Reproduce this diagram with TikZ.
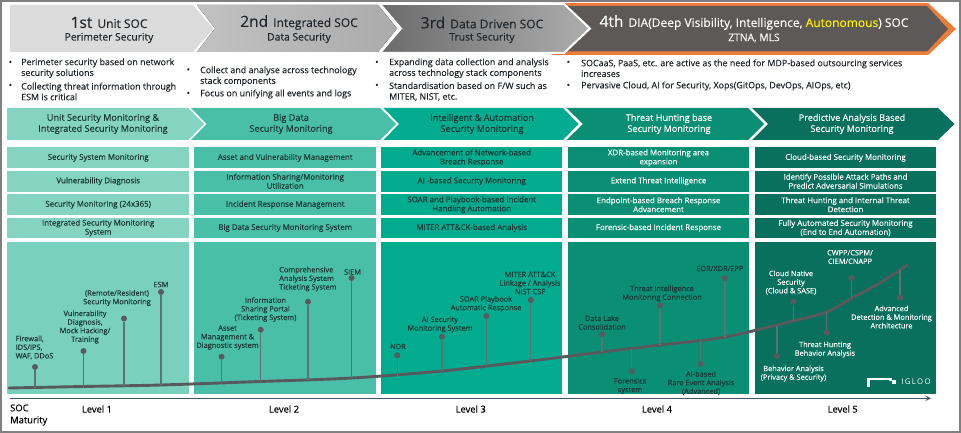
\documentclass[tikz,border=0pt]{standalone}
\usepackage{fontspec}
\setmainfont{Open Sans}[FakeBold=0.25]
\newfontfamily\logofont[LetterSpace=18]{Open Sans}
\newlength{\du}
\setlength{\du}{1pt}
\tikzset{
  headtext/.style={inner sep=0pt,align=center,text=textdark,font=\fontsize{12pt}{13pt}\selectfont},
  subtext/.style={inner sep=0pt,align=center,text=textdark,font=\fontsize{10.3pt}{11pt}\selectfont},
  itemtext/.style={anchor=west,inner sep=0pt,align=left,text=textdark,font=\fontsize{8.9pt}{10.7pt}\selectfont},
  bandtext/.style={inner sep=0pt,align=center,font=\fontsize{9.1pt}{11pt}\selectfont},
  cellbox/.style={minimum width=181.5\du,minimum height=20.8\du,inner sep=0pt,align=center,font=\fontsize{7.9pt}{9pt}\selectfont},
  panelbox/.style={minimum width=181.5\du,minimum height=152.3\du,inner sep=0pt},
  dotmark/.style={circle,fill=dotgrey,minimum size=6\du,inner sep=0pt},
  stemline/.style={draw=stemgrey,line width=1.1\du},
  marktext/.style={inner sep=0pt,align=center,font=\fontsize{7.4pt}{8.6pt}\selectfont},
  leveltext/.style={inner sep=0pt,text=black,font=\fontsize{9.4pt}{12pt}\selectfont}
}
\begin{document}
\begin{tikzpicture}
\pgftransformxscale{1.000000}
\pgftransformyscale{-1.000000}
\definecolor{textdark}{rgb}{0.130000, 0.150000, 0.170000}
\definecolor{textgreen}{rgb}{0.090000, 0.220000, 0.210000}
\definecolor{framegrey}{rgb}{0.500000, 0.500000, 0.500000}
\definecolor{dotgrey}{rgb}{0.350000, 0.350000, 0.380000}
\definecolor{stemgrey}{rgb}{0.360000, 0.450000, 0.450000}
\definecolor{curvegrey}{rgb}{0.340000, 0.350000, 0.360000}
\definecolor{axisblue}{rgb}{0.270000, 0.330000, 0.420000}
\definecolor{igorange}{rgb}{0.930000, 0.490000, 0.220000}
\definecolor{igdark}{rgb}{0.370000, 0.350000, 0.350000}
\definecolor{levela}{rgb}{0.520000, 0.830000, 0.760000}
\definecolor{levelb}{rgb}{0.290000, 0.750000, 0.660000}
\definecolor{levelc}{rgb}{0.010000, 0.670000, 0.560000}
\definecolor{leveld}{rgb}{0.040000, 0.560000, 0.460000}
\definecolor{levele}{rgb}{0.030000, 0.440000, 0.360000}
\useasboundingbox (0\du,0\du) rectangle (961\du,433\du);
\fill[white] (0\du,0\du) rectangle (961\du,433\du);
\draw[framegrey,line width=2\du] (1\du,1\du) rectangle (960\du,432\du);
% top row
\fill[igorange] (552\du,3\du)--(928\du,3\du)--(956\du,29\du)--(928\du,55\du)--(552\du,55\du)--cycle;
\fill[igdark] (565\du,6\du)--(927\du,6\du)--(948\du,29\du)--(927\du,51.5\du)--(565\du,51.5\du)--cycle;
\fill[left color=black!58,right color=black!32,draw=white,line width=2\du] (380\du,4\du)--(564\du,4\du)--(590\du,28.5\du)--(564\du,53\du)--(380\du,53\du)--(401\du,28.5\du)--cycle;
\fill[black!14] (10\du,5\du)--(193\du,5\du)--(213\du,28.5\du)--(193\du,52\du)--(10\du,52\du)--cycle;
\fill[left color=black!24,right color=black!33] (197\du,5\du)--(378\du,5\du)--(397\du,28.5\du)--(378\du,52\du)--(197\du,52\du)--(215\du,28.5\du)--cycle;
\node[headtext] (heada) at (109\du,22.5\du){{\fontsize{15.5pt}{15pt}\selectfont 1st}\, Unit SOC};
\node[subtext] (suba) at (109\du,38\du){Perimeter Security};
\node[headtext] (headb) at (299\du,22.5\du){{\fontsize{15.5pt}{15pt}\selectfont 2nd}\, Integrated SOC};
\node[subtext] (subb) at (299\du,38\du){Data Security};
\node[headtext] (headc) at (482\du,22.5\du){{\fontsize{15.5pt}{15pt}\selectfont 3rd}\, Data Driven SOC};
\node[subtext] (subc) at (482\du,38\du){Trust Security};
\node[headtext,text=white] (headd) at (754\du,22.5\du){{\fontsize{15.5pt}{15pt}\selectfont 4th}\, DIA(Deep Visibility, Intelligence, \textcolor{yellow}{Autonomous}) SOC};
\node[subtext,text=white] (subd) at (754\du,38\du){ZTNA, MLS};
% bullets
\node[itemtext] (bula) at (8.5\du,63\du){•};
\node[itemtext] (itema) at (21\du,68.2\du){Perimeter security based on network\\security solutions};
\node[itemtext] (bulb) at (8.5\du,86\du){•};
\node[itemtext] (itemb) at (21\du,91.5\du){Collecting threat information through\\ESM is critical};
\node[itemtext] (bulc) at (186.5\du,70.5\du){•};
\node[itemtext] (itemc) at (200\du,76.2\du){Collect and analyse across technology\\stack components};
\node[itemtext] (buld) at (186.5\du,94\du){•};
\node[itemtext] (itemd) at (200\du,94\du){Focus on unifying all events and logs};
\node[itemtext] (bule) at (375\du,63\du){•};
\node[itemtext] (iteme) at (389\du,68.2\du){Expanding data collection and analysis\\across technology stack components};
\node[itemtext] (bulf) at (375\du,86\du){•};
\node[itemtext] (itemf) at (389\du,91.5\du){Standardisation based on F/W such as\\MITER, NIST, etc.};
\node[itemtext] (bulg) at (566.5\du,63\du){•};
\node[itemtext] (itemg) at (581\du,68.2\du){SOCaaS, PaaS, etc. are active as the need for MDP-based outsourcing services\\increases};
\node[itemtext] (bulh) at (566.5\du,86\du){•};
\node[itemtext] (itemh) at (581\du,86\du){Pervasive Cloud, AI for Security, Xops(GitOps, DevOps, AIOps, etc)};
% second row
\fill[levela] (7\du,108\du)--(188\du,108\du)--(204\du,124\du)--(188\du,140\du)--(7\du,140\du)--cycle;
\fill[levelb] (191\du,108\du)--(380\du,108\du)--(396\du,124\du)--(380\du,140\du)--(191\du,140\du)--(206.5\du,124\du)--cycle;
\fill[levelc] (383.5\du,108\du)--(563\du,108\du)--(578.5\du,124\du)--(563\du,140\du)--(383.5\du,140\du)--(399\du,124\du)--cycle;
\fill[leveld] (566.5\du,108\du)--(748\du,108\du)--(764\du,124\du)--(748\du,140\du)--(566.5\du,140\du)--(583\du,124\du)--cycle;
\fill[levele] (752\du,108\du)--(938\du,108\du)--(954.5\du,124\du)--(938\du,140\du)--(752\du,140\du)--(768\du,124\du)--cycle;
\node[bandtext,text=textgreen] (banda) at (103\du,124\du){Unit Security Monitoring \&\\Integrated Security Monitoring};
\node[bandtext,text=textgreen] (bandb) at (291\du,124\du){Big Data\\Security Monitoring};
\node[bandtext,text=textgreen] (bandc) at (482\du,124\du){Intelligent \& Automation\\Security Monitoring};
\node[bandtext,text=white] (bandd) at (669\du,124\du){Threat Hunting base\\Security Monitoring};
\node[bandtext,text=white] (bande) at (852\du,124\du){Predictive Analysis Based\\Security Monitoring};
% cells
\node[cellbox,fill=levela,text=textgreen] (cellaa) at (98.2\du,157.8\du){Security System Monitoring};
\node[cellbox,fill=levela,text=textgreen] (cellab) at (98.2\du,181.2\du){Vulnerability Diagnosis};
\node[cellbox,fill=levela,text=textgreen] (cellac) at (98.2\du,204.7\du){Security Monitoring (24x365)};
\node[cellbox,fill=levela,text=textgreen] (cellad) at (98.2\du,228\du){Integrated Security Monitoring\\System};
\node[cellbox,fill=levelb,text=textgreen] (cellba) at (285.2\du,157.8\du){Asset and Vulnerability Management};
\node[cellbox,fill=levelb,text=textgreen] (cellbb) at (285.2\du,181.2\du){Information Sharing/Monitoring\\Utilization};
\node[cellbox,fill=levelb,text=textgreen] (cellbc) at (285.2\du,204.7\du){Incident Response Management};
\node[cellbox,fill=levelb,text=textgreen] (cellbd) at (285.2\du,228\du){Big Data Security Monitoring System};
\node[cellbox,fill=levelc,text=textgreen] (cellca) at (471.7\du,157.8\du){Advancement of Network-based\\Breach Response};
\node[cellbox,fill=levelc,text=textgreen] (cellcb) at (471.7\du,181.2\du){AI -based Security Monitoring};
\node[cellbox,fill=levelc,text=textgreen] (cellcc) at (471.7\du,204.7\du){SOAR and Playbook-based Incident\\Handling Automation};
\node[cellbox,fill=levelc,text=textgreen] (cellcd) at (471.7\du,228\du){MITER ATT\&CK-based Analysis};
\node[cellbox,fill=leveld,text=white] (cellda) at (658.5\du,157.8\du){XDR-based Monitoring area\\expansion};
\node[cellbox,fill=leveld,text=white] (celldb) at (658.5\du,181.2\du){Extend Threat Intelligence};
\node[cellbox,fill=leveld,text=white] (celldc) at (658.5\du,204.7\du){Endpoint-based Breach Response\\Advancement};
\node[cellbox,fill=leveld,text=white] (celldd) at (658.5\du,228\du){Forensic-based Incident Response};
\node[cellbox,fill=levele,text=white] (cellea) at (845.5\du,157.8\du){Cloud-based Security Monitoring};
\node[cellbox,fill=levele,text=white] (celleb) at (845.5\du,181.2\du){Identify Possible Attack Paths and\\Predict Adversarial Simulations};
\node[cellbox,fill=levele,text=white] (cellec) at (845.5\du,204.7\du){Threat Hunting and Internal Threat\\Detection};
\node[cellbox,fill=levele,text=white] (celled) at (845.5\du,228\du){Fully Automated Security Monitoring\\(End to End Automation)};
% panels
\node[panelbox,fill=levela!80!levelb] (panela) at (98.2\du,318\du){};
\node[panelbox,fill=levelb] (panelb) at (285.2\du,318\du){};
\node[panelbox,fill=levelc] (panelc) at (471.7\du,318\du){};
\node[panelbox,fill=leveld] (paneld) at (658.5\du,318\du){};
\node[panelbox,fill=levele] (panele) at (845.5\du,318\du){};
% maturity curve
\draw[curvegrey,line width=2.9\du,line cap=round] plot[smooth] coordinates {(9\du,388\du) (83\du,386.5\du) (161\du,385\du) (260\du,381.5\du) (352\du,378\du) (442\du,371\du) (530\du,361\du) (602\du,352\du) (660\du,345\du) (725\du,337\du) (793\du,321\du) (827\du,312\du) (852\du,298\du) (880\du,283\du) (907\du,265\du)};
% level 1
\coordinate (footfw) at (35\du,387.5\du);
\coordinate (footvd) at (83.5\du,386.5\du);
\coordinate (footsm) at (124\du,386\du);
\coordinate (footes) at (161\du,385\du);
\node[dotmark] (dotfw) at (35\du,367\du){};
\node[dotmark] (dotvd) at (83.5\du,351\du){};
\node[dotmark] (dotsm) at (124\du,318.5\du){};
\node[dotmark] (dotes) at (161\du,292\du){};
\draw[stemline] (dotfw)--(footfw);
\draw[stemline] (dotvd)--(footvd);
\draw[stemline] (dotsm)--(footsm);
\draw[stemline] (dotes)--(footes);
\node[marktext,text=textgreen,align=left,anchor=west] (txtfw) at (15.5\du,347.5\du){Firewall,\\IDS/IPS,\\WAF, DDoS};
\node[marktext,text=textgreen] (txtvd) at (85\du,327\du){Vulnerability\\Diagnosis,\\Mock Hacking/\\Training};
\node[marktext,text=textgreen] (txtsm) at (117\du,298\du){(Remote/Resident)\\Security Monitoring};
\node[marktext,text=textgreen] (txtes) at (161\du,284.5\du){ESM};
% level 2
\coordinate (footam) at (221.5\du,383\du);
\coordinate (footip) at (260.7\du,381.5\du);
\coordinate (footca) at (308\du,380\du);
\coordinate (footsi) at (351.5\du,378\du);
\node[dotmark] (dotam) at (221.5\du,356.7\du){};
\node[dotmark] (dotip) at (260.7\du,329.7\du){};
\node[dotmark] (dotca) at (308\du,301.7\du){};
\node[dotmark] (dotsi) at (351.5\du,278\du){};
\draw[stemline] (dotam)--(footam);
\draw[stemline] (dotip)--(footip);
\draw[stemline] (dotca)--(footca);
\draw[stemline] (dotsi)--(footsi);
\node[marktext,text=textgreen] (txtam) at (227.5\du,337.5\du){Asset\\Management \&\\Diagnostic system};
\node[marktext,text=textgreen] (txtip) at (265.5\du,309.5\du){Information\\Sharing Portal\\(Ticketing System)};
\node[marktext,text=textgreen,align=left,anchor=west] (txtca) at (279\du,279\du){Comprehensive\\Analysis System\\Ticketing System};
\node[marktext,text=textgreen] (txtsi) at (352.5\du,272\du){SIEM};
% level 3
\coordinate (footnd) at (397.3\du,376\du);
\coordinate (footai) at (442\du,371\du);
\coordinate (footsp) at (486.3\du,366.5\du);
\coordinate (footma) at (530.7\du,361\du);
\node[dotmark] (dotnd) at (397.3\du,355.3\du){};
\node[dotmark] (dotai) at (442\du,336.7\du){};
\node[dotmark] (dotsp) at (486.3\du,316\du){};
\node[dotmark] (dotma) at (530.7\du,300\du){};
\draw[stemline] (dotnd)--(footnd);
\draw[stemline] (dotai)--(footai);
\draw[stemline] (dotsp)--(footsp);
\draw[stemline] (dotma)--(footma);
\node[marktext,text=textgreen] (txtnd) at (398\du,346.5\du){NDR};
\node[marktext,text=textgreen] (txtai) at (440\du,324.5\du){AI Security\\Monitoring System};
\node[marktext,text=textgreen] (txtsp) at (486\du,304\du){SOAR Playbook\\Automatic Response};
\node[marktext,text=textgreen] (txtma) at (530\du,283\du){MITER ATT\&CK\\Linkage / Analysis\\NIST CSF};
% level 4
\coordinate (footdl) at (602\du,352\du);
\coordinate (footfo) at (631.7\du,349\du);
\coordinate (footti) at (660\du,345\du);
\coordinate (footed) at (725\du,337\du);
\coordinate (footar) at (700.3\du,340\du);
\node[dotmark] (dotdl) at (602\du,334.3\du){};
\node[dotmark] (dotfo) at (631.7\du,371.3\du){};
\node[dotmark] (dotti) at (660\du,305.3\du){};
\node[dotmark] (doted) at (725\du,278\du){};
\node[dotmark] (dotar) at (700.3\du,363.7\du){};
\draw[stemline] (dotdl)--(footdl);
\draw[stemline] (dotfo)--(footfo);
\draw[stemline] (dotti)--(footti);
\draw[stemline] (doted)--(footed);
\draw[stemline] (dotar)--(footar);
\node[marktext,text=textgreen] (txtdl) at (602\du,322.5\du){Data Lake\\Consolidation};
\node[marktext,text=textgreen] (txtfo) at (630\du,386\du){Forensics\\system};
\node[marktext,text=textgreen] (txtti) at (662\du,293.5\du){Threat Intelligence\\Monitoring Connection};
\node[marktext,text=textgreen] (txted) at (720\du,268.5\du){EDR/XDR/EPP};
\node[marktext,text=textgreen] (txtar) at (701\du,383\du){AI-based\\Rare Event Analysis\\(Advanced)};
% level 5
\coordinate (footba) at (777\du,326\du);
\coordinate (footcn) at (793.3\du,321\du);
\coordinate (footth) at (826.7\du,312\du);
\coordinate (footcw) at (851.7\du,298\du);
\coordinate (footad) at (900\du,270\du);
\node[dotmark] (dotba) at (777\du,356\du){};
\node[dotmark] (dotcn) at (793.3\du,301.7\du){};
\node[dotmark] (dotth) at (826.7\du,332.7\du){};
\node[dotmark] (dotcw) at (851.7\du,278\du){};
\node[dotmark] (dotad) at (900\du,297.7\du){};
\draw[stemline] (dotba)--(footba);
\draw[stemline] (dotcn)--(footcn);
\draw[stemline] (dotth)--(footth);
\draw[stemline] (dotcw)--(footcw);
\draw[stemline] (dotad)--(footad);
\node[marktext,text=white] (txtba) at (793.5\du,373.5\du){Behavior Analysis\\(Privacy \& Security)};
\node[marktext,text=white] (txtcn) at (791\du,282.5\du){Cloud Native\\Security\\(Cloud \& SASE)};
\node[marktext,text=white] (txtth) at (825\du,349.5\du){Threat Hunting\\Behavior Analysis};
\node[marktext,text=white] (txtcw) at (850\du,257\du){CWPP/CSPM/\\CIEM/CNAPP};
\node[marktext,text=white] (txtad) at (891.5\du,317\du){Advanced\\Detection \& Monitoring\\Architecture};
% logo
\draw[white,line width=2.4\du] (868.5\du,387.3\du)--(868.5\du,378.7\du)--(890.5\du,378.7\du)--(890.5\du,380.5\du);
\fill[white] (891.7\du,380\du) rectangle (896\du,384.3\du);
\node[inner sep=0pt,text=white,font=\logofont\fontsize{7.8pt}{8pt}\selectfont] (logotxt) at (916\du,382\du){IGLOO};
% axis
\coordinate (axisa) at (10\du,398.3\du);
\coordinate (axisb) at (931\du,398.3\du);
\draw[axisblue,line width=1.4\du,-stealth] (axisa)--(axisb);
\node[leveltext,anchor=west,align=left] (txtsoc) at (10\du,415\du){SOC\\Maturity};
\node[leveltext] (lvla) at (97\du,409\du){Level 1};
\node[leveltext] (lvlb) at (284\du,409\du){Level 2};
\node[leveltext] (lvlc) at (470.7\du,409\du){Level 3};
\node[leveltext] (lvld) at (657\du,409\du){Level 4};
\node[leveltext] (lvle) at (842.7\du,409\du){Level 5};
\end{tikzpicture}
\end{document}
